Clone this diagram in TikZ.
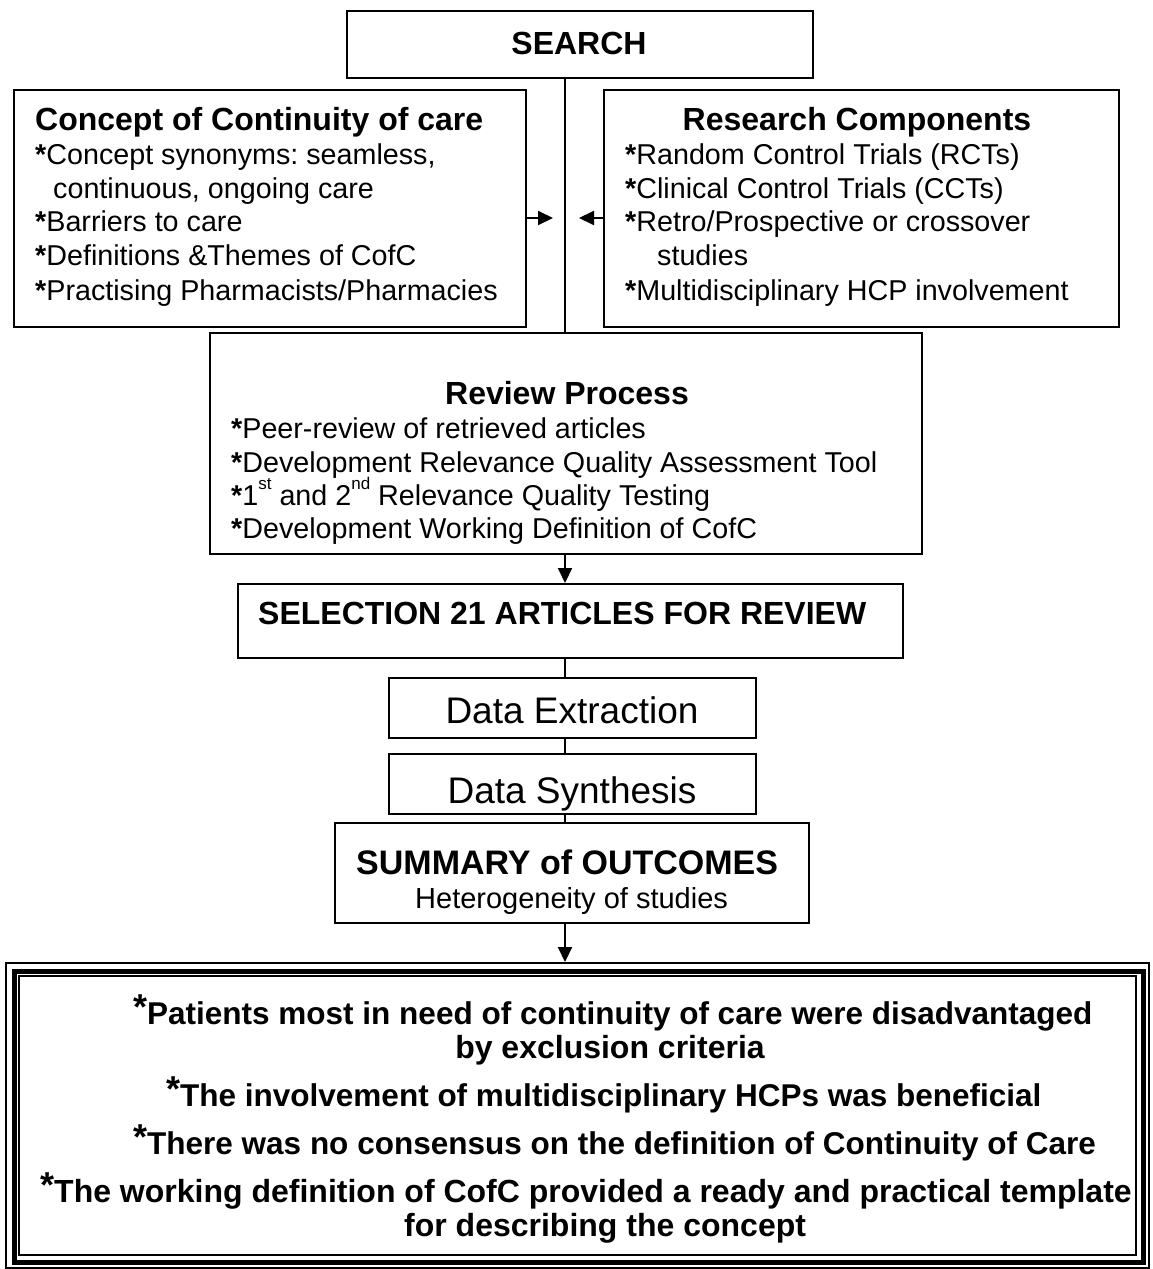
\documentclass[tikz,border=0pt]{standalone}
\usepackage{fontspec}
\setmainfont{Liberation Sans}
\usetikzlibrary{arrows.meta}
\newcommand\bst{\textbf{*}}
\newcommand\bigst{\raisebox{5pt}{\fontsize{36}{36}\selectfont *}}
\newcommand\supx[1]{\raisebox{0.55em}{\fontsize{17}{17}\selectfont #1}}
\frenchspacing
\begin{document}
\frenchspacing
\begin{tikzpicture}[x=1pt,y=-1pt,
  box/.style={draw, line width=2pt, inner sep=0pt, anchor=north west},
  txt/.style={inner sep=0pt, anchor=base west, font=\fontsize{28.7}{34}\selectfont},
  hdr/.style={inner sep=0pt, anchor=base west, font=\bfseries\fontsize{32}{34}\selectfont},
  bot/.style={inner sep=0pt, anchor=base west, font=\bfseries\fontsize{32}{34}\selectfont},
  bots/.style={inner sep=0pt, anchor=base west, font=\bfseries\fontsize{31.5}{34}\selectfont},
  conn/.style={line width=2pt},
  arr/.style={line width=2pt, -{Triangle[length=15pt,width=14pt]}}]
\useasboundingbox (0,0) rectangle (1152,1269);
\coordinate (sp) at (565,0);
\coordinate (ay) at (0,218);
\coordinate (tipL) at (553,218);
\coordinate (tipR) at (579,218);

% boxes
\node[box, minimum width=466pt, minimum height=67pt] (search) at (346,10) {};
\node[box, minimum width=512pt, minimum height=237pt] (concept) at (13,89) {};
\node[box, minimum width=515pt, minimum height=237pt] (research) at (603,89) {};
\node[box, minimum width=712pt, minimum height=221pt] (review) at (209,332) {};
\node[box, minimum width=665pt, minimum height=74pt] (selection) at (237,583) {};
\node[box, minimum width=367pt, minimum height=60pt] (extract) at (388,677) {};
\node[box, minimum width=367pt, minimum height=60pt] (synth) at (388,753) {};
\node[box, minimum width=474pt, minimum height=100pt] (summary) at (334,822) {};
\node[draw, line width=1.5pt, inner sep=0pt, anchor=north west, minimum width=1143pt, minimum height=305pt] (final) at (5,962) {};
\node[draw, line width=4.5pt, inner sep=0pt, anchor=north west, minimum width=1129pt, minimum height=291pt] (finalb) at (12,969) {};
\node[draw, line width=2pt, inner sep=0pt, anchor=north west, minimum width=1117pt, minimum height=279pt] (finalc) at (18,975) {};

% connectors
\draw[conn] (search.south -| sp) -- (review.north -| sp);
\draw[arr] (concept.east |- ay) -- (tipL);
\draw[arr] (research.west |- ay) -- (tipR);
\draw[arr] (review.south -| sp) -- (selection.north -| sp);
\draw[conn] (selection.south -| sp) -- (extract.north -| sp);
\draw[conn] (extract.south -| sp) -- (synth.north -| sp);
\draw[conn] (synth.south -| sp) -- (summary.north -| sp);
\draw[arr] (summary.south -| sp) -- (final.north -| sp);

% texts
\node[hdr, anchor=base] (tsearch) at (579,54) {SEARCH};

\node[hdr] (tc0) at (35,130) {Concept of Continuity of care};
\node[txt] (tc1) at (35,164) {\bst Concept synonyms: seamless,};
\node[txt] (tc2) at (53,198) {continuous, ongoing care};
\node[txt] (tc3) at (35,231) {\bst Barriers to care};
\node[txt] (tc4) at (35,265) {\bst Definitions \&Themes of CofC};
\node[txt] (tc5) at (35,300) {\bst Practising Pharmacists/Pharmacies};

\node[hdr, anchor=base] (tr0) at (857,130) {Research Components};
\node[txt] (tr1) at (625,164) {\bst Random Control Trials (RCTs)};
\node[txt] (tr2) at (625,198) {\bst Clinical Control Trials (CCTs)};
\node[txt] (tr3) at (625,231) {\bst Retro/Prospective or crossover};
\node[txt] (tr4) at (657,265) {studies};
\node[txt] (tr5) at (625,300) {\bst Multidisciplinary HCP involvement};

\node[hdr, anchor=base] (tv0) at (567,404) {Review Process};
\node[txt] (tv1) at (231,438) {\bst Peer-review of retrieved articles};
\node[txt] (tv2) at (231,472) {\bst Development Relevance Quality Assessment Tool};
\node[txt] (tv3) at (231,505) {\bst 1\supx{st} and 2\supx{nd} Relevance Quality Testing};
\node[txt] (tv4) at (231,538) {\bst Development Working Definition of CofC};

\node[hdr] (tsel) at (258,624) {SELECTION 21 ARTICLES FOR REVIEW};

\node[txt, anchor=base, font=\fontsize{37}{40}\selectfont] (tex) at (572,723) {Data Extraction};
\begin{scope}
\clip (388,753) rectangle (755,813);
\node[txt, anchor=base, font=\fontsize{37}{40}\selectfont] (tsy) at (572,803) {Data Synthesis};
\end{scope}

\node[hdr, font=\bfseries\fontsize{34}{36}\selectfont] (ts0) at (356,874) {SUMMARY of OUTCOMES};
\node[txt, font=\fontsize{29}{34}\selectfont] (ts1) at (415,908) {Heterogeneity of studies};

\node[bots] (tf1) at (133,1024) {\bigst Patients most in need of continuity of care were disadvantaged};
\node[bot, anchor=base] (tf2) at (610,1058) {by exclusion criteria};
\node[bots] (tf3) at (166,1106) {\bigst The involvement of multidisciplinary HCPs was beneficial};
\node[bots] (tf4) at (133,1154) {\bigst There was no consensus on the definition of Continuity of Care};
\node[bot] (tf5) at (40,1202) {\bigst The working definition of CofC provided a ready and practical template};
\node[bot] (tf6) at (404,1236) {for describing the concept};
\end{tikzpicture}
\end{document}
